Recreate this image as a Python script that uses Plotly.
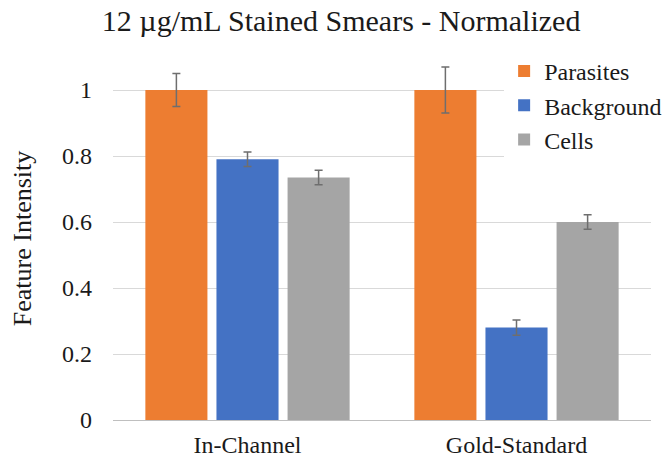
import plotly.graph_objects as go

# Normalized feature intensities per smear type
categories = ["In-Channel", "Gold-Standard"]
series_names = ["Parasites", "Background", "Cells"]
parasites = [1.0, 1.0]
background = [0.79, 0.28]
cells = [0.735, 0.60]
parasites_err = [0.05, 0.07]
background_err = [0.022, 0.023]
cells_err = [0.022, 0.022]

colors = ["#ED7D31", "#4472C4", "#A5A5A5"]
SERIF = "Liberation Serif"
TEXT = "#1a1a1a"

fig = go.Figure()
for name, vals, errs, col in zip(series_names,
                                 [parasites, background, cells],
                                 [parasites_err, background_err, cells_err],
                                 colors):
    fig.add_trace(go.Bar(
        x=categories, y=vals, name=name,
        marker=dict(color=col, line=dict(width=0)),
        error_y=dict(type="data", array=errs, visible=True,
                     color="#6E6E6E", thickness=1.5, width=4),
    ))

fig.update_layout(
    template="none",
    width=665, height=462,
    margin=dict(l=113, r=14, t=57, b=42, autoexpand=False),
    paper_bgcolor="white", plot_bgcolor="white",
    barmode="group", bargap=0.207, bargroupgap=0.127,
    title=dict(text="12 µg/mL Stained Smears - Normalized",
               x=0.513, xanchor="center", y=0.955, yanchor="middle",
               font=dict(family=SERIF, size=30, color=TEXT)),
    legend=dict(x=0.727, xanchor="left", y=1.022, yanchor="top",
                bgcolor="white",
                font=dict(family=SERIF, size=24, color=TEXT),
                tracegroupgap=0, itemwidth=30),
    showlegend=True,
)
fig.update_xaxes(showgrid=False, showline=False, ticks="", zeroline=False,
                 ticklabelstandoff=8,
                 tickfont=dict(family=SERIF, size=24, color=TEXT))
fig.update_yaxes(range=[0, 1.1], dtick=0.2, tick0=0,
                 showgrid=True, gridcolor="#D9D9D9", gridwidth=1,
                 zeroline=True, zerolinecolor="#BFBFBF", zerolinewidth=1,
                 showline=False, ticks="", ticklabelstandoff=20,
                 tickfont=dict(family=SERIF, size=24, color=TEXT),
                 title=dict(text="Feature Intensity", standoff=22,
                            font=dict(family=SERIF, size=26, color=TEXT)))

fig.write_html("out.html")
